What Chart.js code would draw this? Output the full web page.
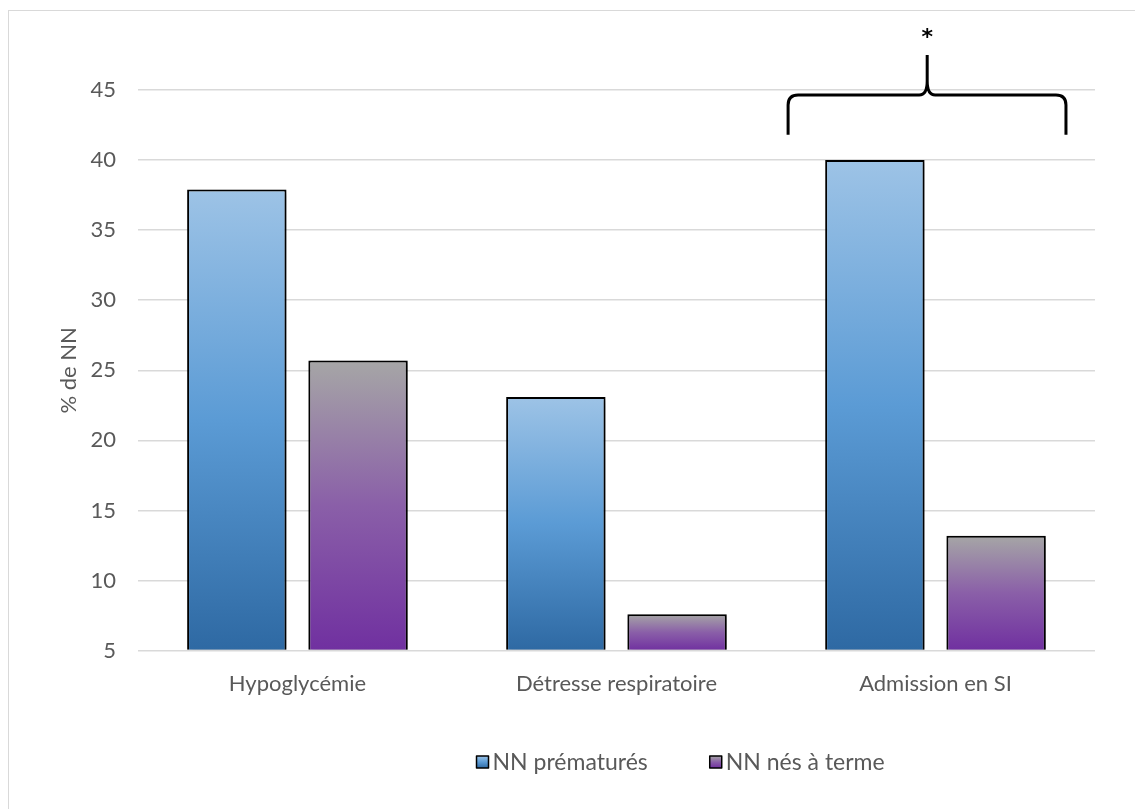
<!DOCTYPE html>
<html>
<head>
<meta charset="utf-8">
<script src="https://cdn.jsdelivr.net/npm/chart.js@4"></script>
<style>
  html, body { margin: 0; padding: 0; background: #fff; }
  #wrap { position: relative; width: 1135px; height: 809px; overflow: hidden; }
  #frame { position: absolute; left: 8px; top: 10px; width: 1200px; height: 900px; border: 1px solid #d9d9d9; box-sizing: border-box; }
  canvas { position: absolute; left: 0; top: 0; }
</style>
</head>
<body>
<div id="wrap">
  <div id="frame"></div>
  <canvas id="myChart" width="1135" height="809"></canvas>
</div>
<script>
const categories = ["Hypoglycémie", "Détresse respiratoire", "Admission en SI"];
const seriesNames = ["NN prématurés", "NN nés à terme"];
const prematures = [37.9, 23.1, 40.0];
const nesATerme = [25.7, 7.6, 13.2];
const yMin = 5;
const yMax = 45;
const yStep = 5;

const FONT = "Lato, 'Open Sans', sans-serif";
const TEXT = "#595959";

// colours of each gradient: top -> bottom
const blueStops = ["#9dc3e6", "#5b9bd5", "#2e69a3"];
const purpleStops = ["#a6a6a6", "#8a5fa8", "#7030a0"];

function makeGradient(ctx, top, bottom, stops) {
  const g = ctx.createLinearGradient(0, top, 0, bottom);
  g.addColorStop(0, stops[0]);
  g.addColorStop(0.5, stops[1]);
  g.addColorStop(1, stops[2]);
  return g;
}

function barFill(stops) {
  return function (context) {
    const chart = context.chart;
    const area = chart.chartArea;
    const y = chart.scales.y;
    if (!area || !y || context.type !== "data") return stops[1];
    const top = y.getPixelForValue(context.raw);
    return makeGradient(chart.ctx, top, area.bottom, stops);
  };
}

// shadow under bars
const shadowPlugin = {
  id: "shadow",
  beforeDatasetsDraw(chart) {
    const ctx = chart.ctx;
    ctx.save();
    ctx.shadowColor = "rgba(0,0,0,0.35)";
    ctx.shadowBlur = 5;
    ctx.shadowOffsetX = 2;
    ctx.shadowOffsetY = 2;
  },
  afterDatasetsDraw(chart) {
    chart.ctx.restore();
  }
};

// brace + asterisk over the last category, and the legend
const extrasPlugin = {
  id: "extras",
  afterDraw(chart) {
    const ctx = chart.ctx;
    const xs = chart.scales.x;
    const ys = chart.scales.y;
    const cw = xs.width / categories.length;
    const cx = xs.getPixelForValue(2);
    const left = cx - 0.462 * cw;
    const right = cx + 0.409 * cw;
    const mid = cx - 0.026 * cw;
    const yLine = ys.getPixelForValue(44.65);
    const yLeg = ys.getPixelForValue(41.8);
    const yTip = ys.getPixelForValue(47.5);
    const r = 10;

    ctx.save();
    ctx.strokeStyle = "#000";
    ctx.lineWidth = 3;
    ctx.lineJoin = "round";
    ctx.beginPath();
    ctx.moveTo(left, yLeg);
    ctx.lineTo(left, yLine + r);
    ctx.quadraticCurveTo(left, yLine, left + r, yLine);
    ctx.lineTo(mid - 8, yLine);
    ctx.quadraticCurveTo(mid, yLine, mid, yLine - 14);
    ctx.lineTo(mid, yTip);
    ctx.moveTo(mid, yLine - 14);
    ctx.quadraticCurveTo(mid, yLine, mid + 8, yLine);
    ctx.lineTo(right - r, yLine);
    ctx.quadraticCurveTo(right, yLine, right, yLine + r);
    ctx.lineTo(right, yLeg);
    ctx.stroke();

    ctx.fillStyle = "#000";
    ctx.font = "bold 22px 'DejaVu Sans', sans-serif";
    ctx.textAlign = "center";
    ctx.textBaseline = "middle";
    ctx.fillText("*", mid, ys.getPixelForValue(48.7));

    // legend
    const area = chart.chartArea;
    ctx.font = "23px " + FONT;
    ctx.textAlign = "left";
    const box = 12, gapText = 4, gapItems = 62;
    const widths = seriesNames.map(s => box + gapText + ctx.measureText(s).width);
    const total = widths[0] + gapItems + widths[1];
    const center = area.left + area.width * 0.567;
    const ly = 762;
    let lx = center - total / 2;
    const stops = [blueStops, purpleStops];
    seriesNames.forEach((name, i) => {
      ctx.fillStyle = makeGradient(ctx, ly - box / 2, ly + box / 2, stops[i]);
      ctx.fillRect(lx, ly - box / 2, box, box);
      ctx.lineWidth = 1.5;
      ctx.strokeStyle = "#000";
      ctx.strokeRect(lx, ly - box / 2, box, box);
      ctx.fillStyle = TEXT;
      ctx.fillText(name, lx + box + gapText, ly + 1);
      lx += widths[i] + gapItems;
    });
    ctx.restore();
  }
};

const ctx = document.getElementById("myChart");

new Chart(ctx, {
  type: "bar",
  data: {
    labels: categories,
    datasets: [
      {
        label: seriesNames[0],
        data: prematures,
        backgroundColor: barFill(blueStops),
        borderColor: "#000",
        borderWidth: 2,
        base: yMin,
      },
      {
        label: seriesNames[1],
        data: nesATerme,
        backgroundColor: barFill(purpleStops),
        borderColor: "#000",
        borderWidth: 2,
        base: yMin,
      },
    ],
  },
  options: {
    responsive: false,
    animation: false,
    devicePixelRatio: 1,
    categoryPercentage: 0.76,
    barPercentage: 0.82,
    layout: { padding: { top: 90, left: 56, right: 40, bottom: 92 } },
    plugins: {
      legend: { display: false },
      tooltip: { enabled: false },
    },
    scales: {
      x: {
        grid: { display: false, drawTicks: false },
        border: { display: false },
        ticks: { color: TEXT, font: { family: FONT, size: 22 }, padding: 20 },
      },
      y: {
        min: yMin,
        max: yMax,
        ticks: { stepSize: yStep, color: TEXT, font: { family: FONT, size: 22 }, padding: 22 },
        grid: { color: "#d9d9d9", lineWidth: 1.5, drawTicks: false },
        border: { display: false },
        title: { display: true, text: "% de NN", color: TEXT, font: { family: FONT, size: 22 }, padding: { top: 0, bottom: -14 } },
      },
    },
  },
  plugins: [shadowPlugin, extrasPlugin],
});
</script>
</body>
</html>
